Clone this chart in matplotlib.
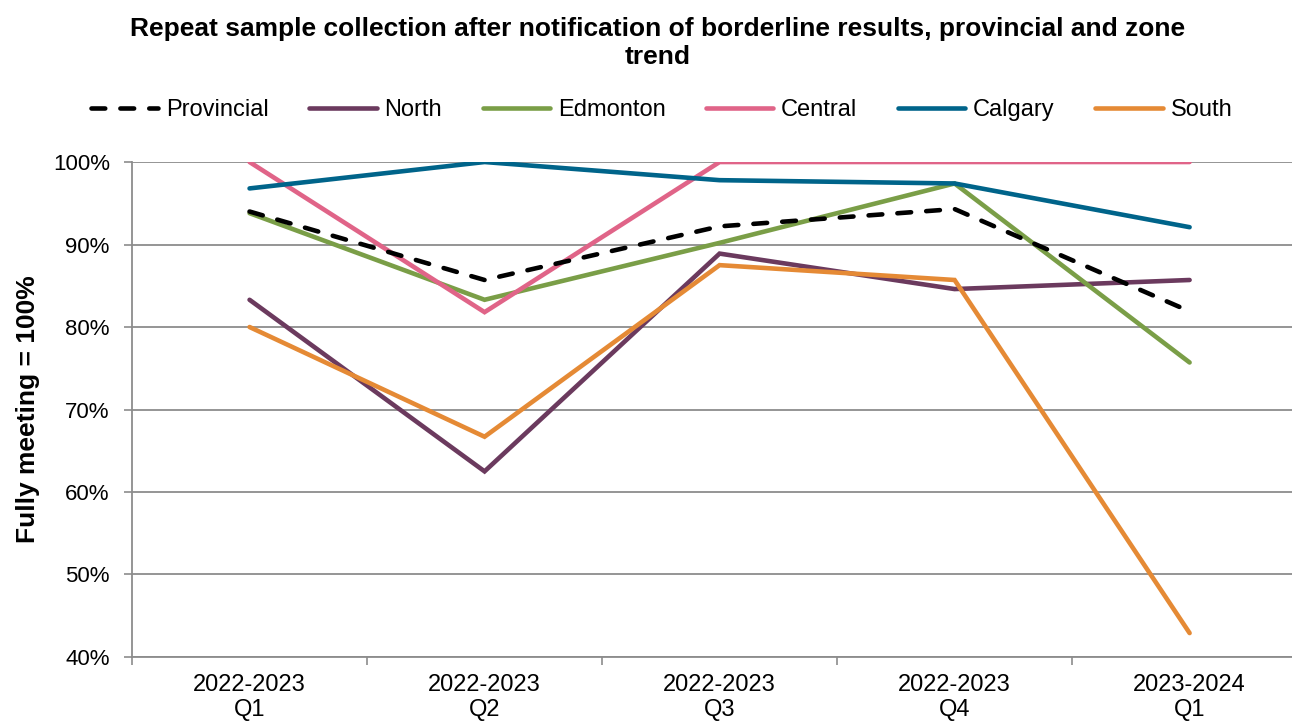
import matplotlib
matplotlib.use("Agg")
import matplotlib.pyplot as plt
from matplotlib.ticker import FuncFormatter

plt.rcParams['font.family'] = ['Liberation Sans', 'DejaVu Sans']

categories = ["2022-2023\nQ1", "2022-2023\nQ2", "2022-2023\nQ3", "2022-2023\nQ4", "2023-2024\nQ1"]
provincial = [94.0, 85.7, 92.2, 94.3, 81.9]
north = [83.3, 62.5, 88.9, 84.6, 85.7]
edmonton = [93.8, 83.3, 90.2, 97.4, 75.7]
central = [100.0, 81.8, 100.0, 100.0, 100.0]
calgary = [96.8, 100.0, 97.8, 97.4, 92.1]
south = [80.0, 66.7, 87.5, 85.7, 42.9]

series = [
    ("Provincial", provincial, "#000000", True),
    ("North", north, "#6B3A5E", False),
    ("Edmonton", edmonton, "#7A9E47", False),
    ("Central", central, "#E06488", False),
    ("Calgary", calgary, "#00648A", False),
    ("South", south, "#E58A35", False),
]

fig = plt.figure(figsize=(12.92, 7.23), dpi=100)
ax = fig.add_axes([0.1022, 0.0913, 0.9095, 0.6846])

x = list(range(len(categories)))
lines = []
for name, vals, color, dashed in series:
    if dashed:
        ln, = ax.plot(x, vals, color=color, lw=3.3, linestyle=(0, (3.0, 3.3)),
                      dash_capstyle='round', solid_capstyle='round', label=name, zorder=4)
    else:
        ln, = ax.plot(x, vals, color=color, lw=3.3, solid_capstyle='round',
                      solid_joinstyle='miter', label=name, zorder=3)
    lines.append(ln)

ax.set_xlim(-0.5, len(categories) - 0.5)
ax.set_ylim(40, 100)
ax.set_yticks(range(40, 101, 10))
ax.yaxis.set_major_formatter(FuncFormatter(lambda v, p: f"{int(v)}%"))
ax.set_xticks([i - 0.5 for i in range(len(categories) + 1)], minor=False)
ax.set_xticklabels([])
ax.set_xticks(x, minor=True)
ax.set_xticklabels(categories, minor=True, fontsize=17)
ax.tick_params(axis='x', which='minor', length=0, pad=12)
ax.tick_params(axis='x', which='major', length=6, color='#8C8C8C', width=1.2)
ax.tick_params(axis='y', length=6, color='#8C8C8C', width=1.2, labelsize=16, pad=10)
ax.grid(axis='y', color='#8C8C8C', lw=1.3)
ax.set_axisbelow(True)
for s in ['top', 'right']:
    ax.spines[s].set_visible(False)
for s in ['left', 'bottom']:
    ax.spines[s].set_color('#8C8C8C')
    ax.spines[s].set_linewidth(1.3)

ax.set_ylabel("Fully meeting = 100%", fontsize=19, fontweight='bold', labelpad=9)

fig.text(0.509, 0.976, "Repeat sample collection after notification of borderline results, provincial and zone\ntrend",
         ha='center', va='top', fontsize=19, fontweight='bold', linespacing=1.2)

leg = fig.legend(handles=lines, loc='center', bbox_to_anchor=(0.512, 0.848), ncol=6, frameon=False,
                 fontsize=17, handlelength=2.85, handletextpad=0.33, columnspacing=1.72)

fig.savefig("out.png", dpi=100)
